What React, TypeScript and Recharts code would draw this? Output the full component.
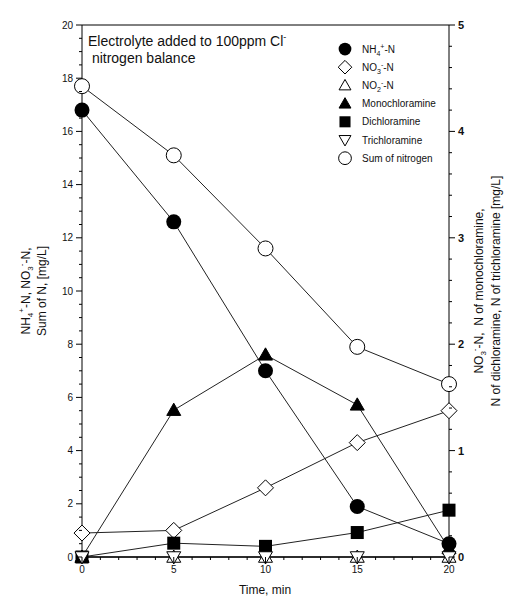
import React from "react";
import {
  LineChart,
  Line,
  XAxis,
  YAxis,
  ReferenceLine,
} from "recharts";

// Sampling times (min)
const times = [0, 5, 10, 15, 20];

// Left axis series [mg/L]
const nh4 = [16.8, 12.6, 7.0, 1.9, 0.5];
const no3 = [0.9, 1.0, 2.6, 4.3, 5.5];
const no2 = [0, 0, 0, 0, 0];
const sumN = [17.7, 15.1, 11.6, 7.9, 6.5];

// Right axis series [mg/L]
const mono = [0, 1.38, 1.9, 1.43, 0.08];
const dichlor = [0, 0.13, 0.1, 0.23, 0.44];
const trichlor = [0, 0, 0, 0, 0];

// Axis ticks
const xTicks = Array.from({ length: 21 }, (_, i) => i);
const leftTicks = Array.from({ length: 41 }, (_, i) => i / 2);
const rightTicks = Array.from({ length: 26 }, (_, i) => Math.round(i * 2) / 10);

const FONT = "'Liberation Sans', Arial, sans-serif";
const INK = "#111";

type Shape =
  | "circleFilled"
  | "diamondOpen"
  | "triUpOpen"
  | "triUpFilled"
  | "squareFilled"
  | "triDownOpen"
  | "circleOpen";

const series: { key: string; axis: "left" | "right"; shape: Shape }[] = [
  { key: "nh4", axis: "left", shape: "circleFilled" },
  { key: "no3", axis: "left", shape: "diamondOpen" },
  { key: "no2", axis: "left", shape: "triUpOpen" },
  { key: "mono", axis: "right", shape: "triUpFilled" },
  { key: "dichlor", axis: "right", shape: "squareFilled" },
  { key: "trichlor", axis: "right", shape: "triDownOpen" },
  { key: "sumN", axis: "left", shape: "circleOpen" },
];

const data = times.map((t, i) => ({
  t,
  nh4: nh4[i],
  no3: no3[i],
  no2: no2[i],
  mono: mono[i],
  dichlor: dichlor[i],
  trichlor: trichlor[i],
  sumN: sumN[i],
}));

function Marker({ shape, cx, cy, s = 1 }: { shape: Shape; cx: number; cy: number; s?: number }) {
  const w = "#fff";
  const k = "#000";
  switch (shape) {
    case "circleFilled":
      return <circle cx={cx} cy={cy} r={7.5 * s} fill={k} />;
    case "circleOpen":
      return <circle cx={cx} cy={cy} r={7.5 * s} fill={w} stroke={k} strokeWidth={1} />;
    case "diamondOpen": {
      const d = 8 * s;
      return (
        <polygon
          points={`${cx},${cy - d} ${cx + d},${cy} ${cx},${cy + d} ${cx - d},${cy}`}
          fill={w}
          stroke={k}
          strokeWidth={1}
        />
      );
    }
    case "triUpOpen":
    case "triUpFilled": {
      const h = 7 * s;
      return (
        <polygon
          points={`${cx},${cy - h} ${cx + h},${cy + h * 0.75} ${cx - h},${cy + h * 0.75}`}
          fill={shape === "triUpFilled" ? k : w}
          stroke={k}
          strokeWidth={1}
        />
      );
    }
    case "triDownOpen": {
      const h = 7 * s;
      return (
        <polygon
          points={`${cx},${cy + h} ${cx + h},${cy - h * 0.75} ${cx - h},${cy - h * 0.75}`}
          fill={w}
          stroke={k}
          strokeWidth={1}
        />
      );
    }
    case "squareFilled": {
      const h = 6.5 * s;
      return <rect x={cx - h} y={cy - h} width={2 * h} height={2 * h} fill={k} />;
    }
  }
  return null;
}

const isInt = (v: number) => Math.abs(v - Math.round(v)) < 1e-6;

function LeftTick(props: any) {
  const { x, y, payload } = props;
  const v = payload.value as number;
  const major = isInt(v / 2);
  return (
    <g>
      <line x1={x} x2={x - (major ? 6 : 3)} y1={y} y2={y} stroke="#000" />
      {major && (
        <text x={x - 9} y={y} textAnchor="end" dominantBaseline="central" fontSize={10} fill={INK} fontFamily={FONT}>
          {v}
        </text>
      )}
    </g>
  );
}

function RightTick(props: any) {
  const { x, y, payload } = props;
  const v = payload.value as number;
  const major = isInt(v);
  return (
    <g>
      <line x1={x} x2={x + (major ? 6 : 3)} y1={y} y2={y} stroke="#000" />
      {major && (
        <text x={x + 9} y={y} textAnchor="start" dominantBaseline="central" fontSize={11} fontWeight="bold" fill={INK} fontFamily={FONT}>
          {Math.round(v)}
        </text>
      )}
    </g>
  );
}

function BottomTick(props: any) {
  const { x, y, payload } = props;
  const v = payload.value as number;
  const major = isInt(v / 5);
  return (
    <g>
      <line x1={x} x2={x} y1={y} y2={y + (major ? 6 : 3)} stroke="#000" />
      {major && (
        <text x={x} y={y + 16} textAnchor="middle" fontSize={10} fill={INK} fontFamily={FONT}>
          {v}
        </text>
      )}
    </g>
  );
}

// ion label: base + subscript digit + superscript charge + "-N"
function Ion({ base, n, q }: { base: string; n: string; q: string }) {
  return (
    <>
      {base}
      <tspan dy={3} fontSize="0.7em">{n}</tspan>
      <tspan dy={-7} fontSize="0.7em">{q}</tspan>
      <tspan dy={4}>-N</tspan>
    </>
  );
}

const legendItems: { shape: Shape; label: React.ReactNode }[] = [
  { shape: "circleFilled", label: <Ion base="NH" n="4" q="+" /> },
  { shape: "diamondOpen", label: <Ion base="NO" n="3" q="-" /> },
  { shape: "triUpOpen", label: <Ion base="NO" n="2" q="-" /> },
  { shape: "triUpFilled", label: "Monochloramine" },
  { shape: "squareFilled", label: "Dichloramine" },
  { shape: "triDownOpen", label: "Trichloramine" },
  { shape: "circleOpen", label: "Sum of nitrogen" },
];

function Overlay() {
  return (
    <svg
      width={514}
      height={608}
      style={{ position: "absolute", left: 0, top: 0, pointerEvents: "none" }}
      fontFamily={FONT}
      fill={INK}
    >
      {/* title inside the plot */}
      <text x={88} y={46} fontSize={14}>
        Electrolyte added to 100ppm Cl<tspan dy={-6} fontSize={9}>-</tspan>
      </text>
      <text x={88} y={63} fontSize={14}>
        {"\u00A0nitrogen balance"}
      </text>

      {/* legend */}
      {legendItems.map((it, i) => {
        const y = 49 + i * 18.2;
        return (
          <g key={i}>
            <Marker shape={it.shape} cx={345} cy={y} s={0.85} />
            <text x={362} y={y + 3.5} fontSize={10}>
              {it.label}
            </text>
          </g>
        );
      })}

      {/* left axis title */}
      <g transform="translate(30,291) rotate(-90)">
        <text x={0} y={0} textAnchor="middle" fontSize={12}>
          NH<tspan dy={3} fontSize={8}>4</tspan>
          <tspan dy={-9} fontSize={8}>+</tspan>
          <tspan dy={6}>-N, NO</tspan>
          <tspan dy={3} fontSize={8}>3</tspan>
          <tspan dy={-9} fontSize={8}>-</tspan>
          <tspan dy={6}>-N,</tspan>
        </text>
        <text x={0} y={16} textAnchor="middle" fontSize={12}>
          Sum of N, [mg/L]
        </text>
      </g>

      {/* right axis title */}
      <g transform="translate(483,291) rotate(-90)">
        <text x={0} y={0} textAnchor="middle" fontSize={12}>
          NO<tspan dy={3} fontSize={8}>3</tspan>
          <tspan dy={-9} fontSize={8}>-</tspan>
          <tspan dy={6}>{"-N,\u00A0 N of monochloramine,"}</tspan>
        </text>
        <text x={0} y={17} textAnchor="middle" fontSize={12}>
          N of dichloramine, N of trichloramine [mg/L]
        </text>
      </g>

      {/* x axis title */}
      <text x={265} y={594} textAnchor="middle" fontSize={12}>
        Time, min
      </text>
    </svg>
  );
}

export default function App() {
  return (
    <div style={{ position: "absolute", left: 0, top: 0, width: 514, height: 608, background: "#fff" }}>
      <LineChart
        width={514}
        height={608}
        data={data}
        margin={{ top: 25, right: 0, bottom: 0, left: 0 }}
      >
        <XAxis
          dataKey="t"
          type="number"
          domain={[0, 20]}
          ticks={xTicks}
          interval={0}
          height={51}
          tickLine={false}
          tickSize={0}
          tickMargin={0}
          axisLine={{ stroke: "#000" }}
          tick={<BottomTick />}
        />
        <YAxis
          yAxisId="left"
          domain={[0, 20]}
          ticks={leftTicks}
          interval={0}
          width={82}
          tickLine={false}
          tickSize={0}
          tickMargin={0}
          axisLine={{ stroke: "#000" }}
          tick={<LeftTick />}
        />
        <YAxis
          yAxisId="right"
          orientation="right"
          domain={[0, 5]}
          ticks={rightTicks}
          interval={0}
          width={65}
          tickLine={false}
          tickSize={0}
          tickMargin={0}
          axisLine={{ stroke: "#000" }}
          tick={<RightTick />}
        />
        <ReferenceLine yAxisId="left" y={20} stroke="#000" />
        {series.map((s) => (
          <Line
            key={s.key}
            yAxisId={s.axis}
            dataKey={s.key}
            type="linear"
            stroke="#222"
            strokeWidth={1}
            activeDot={false}
            isAnimationActive={false}
            dot={(p: any) => (
              <Marker key={`${s.key}-${p.index}`} shape={s.shape} cx={p.cx} cy={p.cy} />
            )}
          />
        ))}
      </LineChart>
      <Overlay />
    </div>
  );
}
